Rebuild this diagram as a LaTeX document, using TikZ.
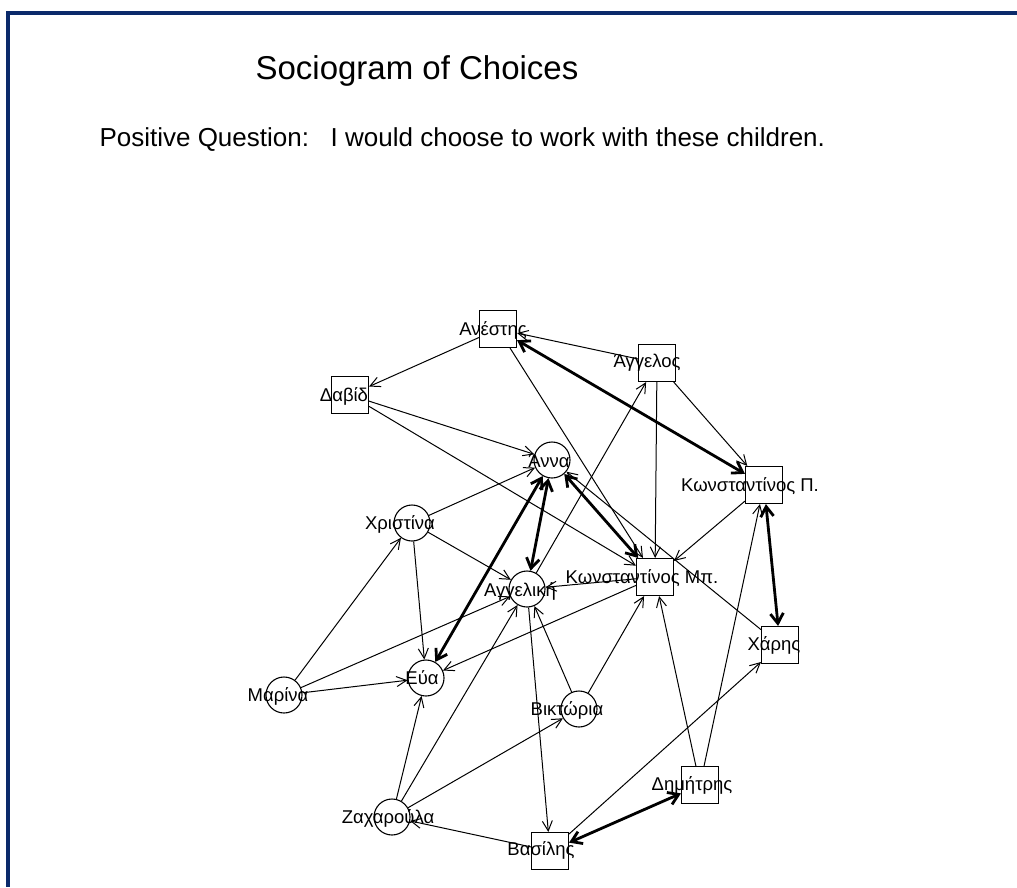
\documentclass[tikz,border=0pt]{standalone}
\usepackage{fontspec}
\setmainfont{Liberation Sans}
\usetikzlibrary{arrows.meta}
\definecolor{framecol}{HTML}{0B2A6B}
\begin{document}
\begin{tikzpicture}[x=1pt,y=-1pt,
  vtx/.style={draw,line width=1.1pt,fill=white,inner sep=0pt},
  girl/.style={vtx,circle,minimum size=36pt},
  boy/.style={vtx,rectangle,minimum size=37pt},
  lbl/.style={font=\fontsize{18.5}{18.5}\selectfont,inner sep=0pt},
  choice/.style={line width=1pt,-{Straight Barb[length=10pt,width=10pt]}},
  mutual/.style={line width=2.8pt,{Straight Barb[length=10pt,width=13pt]}-{Straight Barb[length=10pt,width=13pt]}}
]
\useasboundingbox (0,0) rectangle (1017,887);
% frame
\fill[framecol] (6,11) rectangle (1017,15);
\fill[framecol] (6,11) rectangle (10,887);

% headings
\node[font=\fontsize{33}{33}\selectfont] (title) at (417,71) {Sociogram of Choices};
\node[font=\fontsize{26}{26}\selectfont,anchor=west] (question) at (96,140)
  {Positive Question:\ \ \ I would choose to work with these children.};

% children: squares for boys, circles for girls
\node[boy]  (Ane)  at (498,329) {};
\node[boy]  (Dav)  at (350,395) {};
\node[boy]  (Agg)  at (657,363) {};
\node[boy]  (KP)   at (764,485) {};
\node[girl] (Ann)  at (552,460) {};
\node[girl] (Chr)  at (412,523) {};
\node[girl] (Ang)  at (527,589) {};
\node[boy]  (KM)   at (655,577) {};
\node[boy]  (Cha)  at (780,645) {};
\node[girl] (Eva)  at (426,678) {};
\node[girl] (Mar)  at (284,695) {};
\node[girl] (Vik)  at (579,709) {};
\node[boy]  (Dim)  at (700,785) {};
\node[boy]  (Vas)  at (550,851) {};
\node[girl] (Zach) at (392,817) {};

% one-way choices
\draw[choice] (Ane) -- (Dav);
\draw[choice] (Agg) -- (Ane);
\draw[choice] (Ane) -- (KM);
\draw[choice] (Dav) -- (Ann);
\draw[choice] (Dav) -- (KM);
\draw[choice] (Agg) -- (KP);
\draw[choice] (Agg) -- (KM);
\draw[choice] (Ang) -- (Agg);
\draw[choice] (Chr) -- (Ann);
\draw[choice] (Chr) -- (Ang);
\draw[choice] (Chr) -- (Eva);
\draw[choice] (Mar) -- (Chr);
\draw[choice] (Mar) -- (Eva);
\draw[choice] (Mar) -- (Ang);
\draw[choice] (KM) -- (Eva);
\draw[choice] (KM) -- (Ang);
\draw[choice] (Vik) -- (KM);
\draw[choice] (Vik) -- (Ang);
\draw[choice] (Dim) -- (KM);
\draw[choice] (Dim) -- (KP);
\draw[choice] (Vas) -- (Cha);
\draw[choice] (Cha) -- (Ann);
\draw[choice] (KP) -- (KM);
\draw[choice] (Ang) -- (Vas);
\draw[choice] (Zach) -- (Eva);
\draw[choice] (Zach) -- (Ang);
\draw[choice] (Zach) -- (Vik);
\draw[choice] (Vas) -- (Zach);

% mutual choices
\draw[mutual] (Ane) -- (KP);
\draw[mutual] (Ann) -- (Ang);
\draw[mutual] (Ann) -- (Eva);
\draw[mutual] (Ann) -- (KM);
\draw[mutual] (KP) -- (Cha);
\draw[mutual] (Dim) -- (Vas);

% names
\node[lbl] (lAne)  at (493,330) {Ανέστης};
\node[lbl] (lDav)  at (344,396) {Δαβίδ};
\node[lbl] (lAgg)  at (647,363) {Άγγελος};
\node[lbl] (lKP)   at (750,486) {Κωνσταντίνος Π.};
\node[lbl] (lAnn)  at (549,461) {Άννα};
\node[lbl] (lChr)  at (400,524) {Χριστίνα};
\node[lbl] (lAng)  at (520,591) {Αγγελική};
\node[lbl] (lKM)   at (642,578) {Κωνσταντίνος Μπ.};
\node[lbl] (lCha)  at (774,645) {Χάρης};
\node[lbl] (lEva)  at (422,678) {Εύα};
\node[lbl] (lMar)  at (278,696) {Μαρίνα};
\node[lbl] (lVik)  at (567,710) {Βικτώρια};
\node[lbl] (lDim)  at (692,785) {Δημήτρης};
\node[lbl] (lVas)  at (541,850) {Βασίλης};
\node[lbl] (lZach) at (388,818) {Ζαχαρούλα};
\end{tikzpicture}
\end{document}
